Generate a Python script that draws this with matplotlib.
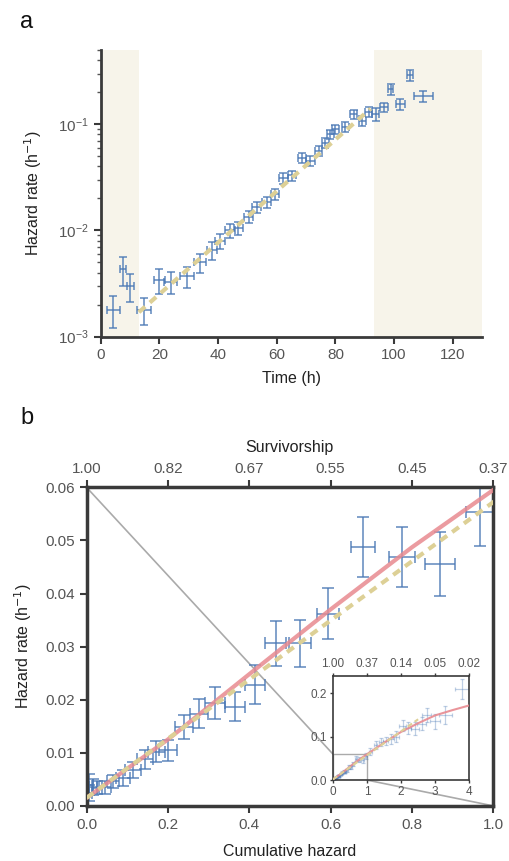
import matplotlib.pyplot as plt
from matplotlib.patches import Rectangle, ConnectionPatch

plt.rcParams['font.family'] = ['Liberation Sans', 'DejaVu Sans']
plt.rcParams['font.size'] = 11

# ---- panel a: hazard rate vs time (log scale) ----
time_h = [4.2, 7.6, 10.1, 14.7, 20.0, 23.9, 29.3, 33.8, 37.8, 40.7, 44.1, 46.9,
          50.4, 53.2, 56.6, 59.5, 62.3, 65.2, 68.6, 71.5, 74.3, 76.6, 78.3, 80.0,
          83.4, 86.3, 89.1, 91.4, 93.7, 96.5, 98.8, 102.2, 105.4, 110.0]
hazard_a = [1.8e-3, 4.3e-3, 3.0e-3, 1.8e-3, 3.4e-3, 3.3e-3, 3.7e-3, 5.0e-3, 6.5e-3,
            8.0e-3, 1.0e-2, 1.05e-2, 1.35e-2, 1.65e-2, 1.85e-2, 2.2e-2, 3.1e-2,
            3.3e-2, 4.8e-2, 4.5e-2, 5.6e-2, 6.7e-2, 8.0e-2, 9.0e-2, 9.4e-2, 0.125,
            0.108, 0.13, 0.125, 0.145, 0.215, 0.155, 0.29, 0.185]
time_err = [2.2, 1.0, 1.2, 2.3, 2.0, 2.2, 2.4, 2.0, 1.7, 1.6, 1.6, 1.6, 1.6, 1.6,
            1.6, 1.4, 1.4, 1.4, 1.4, 1.4, 1.3, 1.2, 1.2, 1.2, 1.3, 1.2, 1.2, 1.2,
            1.2, 1.3, 0.8, 1.6, 1.0, 3.2]
hazard_err_a = [0.6e-3, 1.3e-3, 0.9e-3, 0.5e-3, 0.9e-3, 0.8e-3, 0.8e-3, 1.0e-3,
                1.2e-3, 1.3e-3, 1.5e-3, 1.5e-3, 1.8e-3, 2.0e-3, 2.2e-3, 2.5e-3,
                3.5e-3, 3.5e-3, 5e-3, 5e-3, 6e-3, 7e-3, 8e-3, 9e-3, 1e-2, 1.2e-2,
                1.1e-2, 1.4e-2, 1.8e-2, 1.5e-2, 2.5e-2, 1.8e-2, 3.5e-2, 2.2e-2]
fit_a_time = [13, 92]
fit_a_hazard = [1.7e-3, 0.14]
shade_early = (0, 13)
shade_late = (93, 130)

# ---- panel b: hazard rate vs cumulative hazard ----
cumhaz = [0.005, 0.007, 0.015, 0.025, 0.045, 0.065, 0.090, 0.115, 0.143, 0.172,
          0.201, 0.240, 0.277, 0.316, 0.365, 0.414, 0.465, 0.524, 0.594, 0.680,
          0.775, 0.869, 0.967]
hazard_b = [0.0025, 0.004, 0.0035, 0.0034, 0.0035, 0.0046, 0.0052, 0.0068, 0.0088,
            0.0102, 0.0105, 0.0149, 0.0174, 0.0193, 0.0187, 0.0228, 0.0306, 0.0306,
            0.0362, 0.0488, 0.0469, 0.0456, 0.0553]
cumhaz_err = [0.008, 0.008, 0.01, 0.012, 0.015, 0.015, 0.018, 0.02, 0.02, 0.022,
              0.022, 0.022, 0.022, 0.025, 0.025, 0.025, 0.025, 0.027, 0.028, 0.030,
              0.032, 0.036, 0.035]
hazard_err_b = [0.0015, 0.002, 0.0015, 0.0012, 0.0012, 0.0012, 0.0015, 0.0015,
                0.0018, 0.002, 0.002, 0.0023, 0.0028, 0.003, 0.0027, 0.0037, 0.0042,
                0.0044, 0.0048, 0.0057, 0.0057, 0.006, 0.0063]
# later points only visible in the inset
cumhaz_late = [1.1, 1.25, 1.4, 1.55, 1.7, 1.85, 2.05, 2.2, 2.4, 2.6, 2.75, 3.0, 3.3, 3.8]
hazard_late = [0.065, 0.08, 0.088, 0.09, 0.095, 0.10, 0.125, 0.12, 0.118, 0.13,
               0.15, 0.135, 0.15, 0.21]
cumhaz_late_err = [0.04, 0.05, 0.06, 0.07, 0.08, 0.09, 0.1, 0.1, 0.12, 0.12, 0.13,
                   0.15, 0.18, 0.22]
hazard_late_err = [0.008, 0.009, 0.01, 0.01, 0.011, 0.012, 0.013, 0.013, 0.015,
                   0.015, 0.016, 0.018, 0.02, 0.023]

red_H = [0, 0.2, 0.4, 0.6, 0.8, 1.0, 1.5, 2.0, 2.5, 3.0, 3.5, 4.0]
red_h = [0.0015, 0.0125, 0.0248, 0.037, 0.0487, 0.0595, 0.086, 0.111, 0.131,
         0.149, 0.161, 0.172]
yellow_H = [0, 1.0, 2.5]
yellow_h = [0.0015, 0.0572, 0.14]

surv_labels = ['1.00', '0.82', '0.67', '0.55', '0.45', '0.37']
inset_surv_labels = ['1.00', '0.37', '0.14', '0.05', '0.02']

blue = '#4a78b5'
red = '#e88a90'
yellow = '#ddd096'
dark = '#3a3a3a'
tickc = '#555555'

fig = plt.figure(figsize=(5.09, 8.61), dpi=100)

# ---------------- panel a ----------------
ax_a = fig.add_axes([0.198, 0.609, 0.749, 0.333])
ax_a.axvspan(*shade_early, color='#f7f4ea', zorder=0, lw=0)
ax_a.axvspan(*shade_late, color='#f7f4ea', zorder=0, lw=0)
ax_a.errorbar(time_h, hazard_a, xerr=time_err, yerr=hazard_err_a, fmt='none',
              ecolor=blue, elinewidth=1.3, capsize=3, capthick=1.3, alpha=0.75, zorder=2)
ax_a.plot(fit_a_time, fit_a_hazard, color=yellow, lw=3, ls=(0, (2, 1.5)), zorder=3)
ax_a.set_yscale('log')
ax_a.set_xlim(0, 130)
ax_a.set_ylim(1e-3, 0.5)
ax_a.set_xticks([0, 20, 40, 60, 80, 100, 120])
for s in ['top', 'right']:
    ax_a.spines[s].set_visible(False)
for s in ['left', 'bottom']:
    ax_a.spines[s].set_color(dark)
    ax_a.spines[s].set_linewidth(2)
ax_a.tick_params(which='major', length=5, width=1.5, color=dark, labelcolor=tickc, labelsize=11)
ax_a.tick_params(which='minor', length=3, width=1, color=tickc)
ax_a.set_xlabel('Time (h)', color='#222222', fontsize=11.5, labelpad=6)
ax_a.set_ylabel('Hazard rate (h$^{-1}$)', color='#222222', fontsize=11.5, labelpad=10)

# ---------------- panel b ----------------
ax_b = fig.add_axes([0.170, 0.064, 0.799, 0.370])
ax_b.errorbar(cumhaz, hazard_b, xerr=cumhaz_err, yerr=hazard_err_b, fmt='none',
              ecolor=blue, elinewidth=1.3, capsize=4, capthick=1.3, alpha=0.75, zorder=2)
ax_b.plot(red_H, red_h, color=red, lw=3, alpha=0.85, zorder=3)
ax_b.plot(yellow_H, yellow_h, color=yellow, lw=3, ls=(0, (2, 1.5)), zorder=4)
xlim_b = (0, 1.0)
ylim_b = (0, 0.06)
ax_b.set_xlim(*xlim_b)
ax_b.set_ylim(*ylim_b)
ax_b.set_xticks([0, 0.2, 0.4, 0.6, 0.8, 1.0])
ax_b.set_xticklabels(['0.0', '0.2', '0.4', '0.6', '0.8', '1.0'])
ax_b.set_yticks([0, 0.01, 0.02, 0.03, 0.04, 0.05, 0.06])
ax_b.set_yticklabels(['0.00', '0.01', '0.02', '0.03', '0.04', '0.05', '0.06'])
for s in ax_b.spines.values():
    s.set_color(dark)
    s.set_linewidth(2.5)
ax_b.tick_params(length=5, width=1.5, color=dark, labelcolor=tickc, labelsize=11)
ax_b.set_xlabel('Cumulative hazard', color='#222222', fontsize=11.5, labelpad=9)
ax_b.set_ylabel('Hazard rate (h$^{-1}$)', color='#222222', fontsize=11.5, labelpad=8)

ax_top = ax_b.twiny()
ax_top.set_xlim(*xlim_b)
ax_top.set_xticks([0, 0.2, 0.4, 0.6, 0.8, 1.0])
ax_top.set_xticklabels(surv_labels)
ax_top.tick_params(length=5, width=1.5, color=dark, labelcolor=tickc, labelsize=11)
for s in ax_top.spines.values():
    s.set_visible(False)
ax_top.set_xlabel('Survivorship', color='#222222', fontsize=11.5, labelpad=7)

# ---------------- inset ----------------
ax_in = fig.add_axes([0.654, 0.094, 0.268, 0.121])
ax_in.errorbar(cumhaz + cumhaz_late, hazard_b + hazard_late,
               xerr=cumhaz_err + cumhaz_late_err, yerr=hazard_err_b + hazard_late_err,
               fmt='none', ecolor=blue, elinewidth=0.9, capsize=1.5, capthick=0.9,
               alpha=0.35, zorder=2)
ax_in.plot(red_H, red_h, color=red, lw=1.5, alpha=0.9, zorder=3)
ax_in.plot(yellow_H, yellow_h, color=yellow, lw=1.5, ls=(0, (2.5, 1.5)), zorder=4)
ax_in.set_xlim(0, 4)
ax_in.set_ylim(0, 0.24)
ax_in.set_xticks([0, 1, 2, 3, 4])
ax_in.set_yticks([0, 0.1, 0.2])
ax_in.set_yticklabels(['0.0', '0.1', '0.2'])
for s in ax_in.spines.values():
    s.set_color(dark)
    s.set_linewidth(1.2)
ax_in.tick_params(length=2.5, width=1, color=dark, labelcolor=tickc, labelsize=8.5, pad=1.5)
ax_in_top = ax_in.twiny()
ax_in_top.set_xlim(0, 4)
ax_in_top.set_xticks([0, 1, 2, 3, 4])
ax_in_top.set_xticklabels(inset_surv_labels)
ax_in_top.tick_params(length=2.5, width=1, color=dark, labelcolor=tickc, labelsize=8.5, pad=1.5)
for s in ax_in_top.spines.values():
    s.set_visible(False)

# main-panel range drawn inside the inset, with connector lines
ax_in.add_patch(Rectangle((xlim_b[0], ylim_b[0]), xlim_b[1] - xlim_b[0], ylim_b[1] - ylim_b[0],
                          fill=False, edgecolor='#aaaaaa', lw=1, zorder=1))
for xa, ya in [(xlim_b[0], ylim_b[1]), (xlim_b[1], ylim_b[0])]:
    con = ConnectionPatch(xyA=(xa, ya), coordsA='data', axesA=ax_b,
                          xyB=(xa, ya), coordsB='data', axesB=ax_in,
                          color='#aaaaaa', lw=1.2, zorder=1)
    ax_b.add_artist(con)

fig.text(0.04, 0.968, 'a', fontsize=17, color='#111111')
fig.text(0.04, 0.508, 'b', fontsize=17, color='#111111')

fig.savefig('out.png', dpi=100)
